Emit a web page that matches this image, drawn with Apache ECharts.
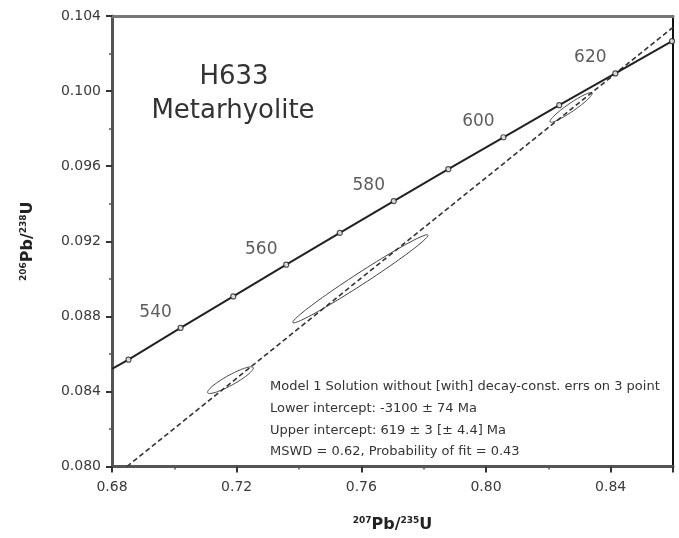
<!DOCTYPE html>
<html><head><meta charset="utf-8">
<script src="https://cdn.jsdelivr.net/npm/echarts@6/dist/echarts.min.js"></script>
<style>html,body{margin:0;padding:0;background:#fff}#c{width:679px;height:538px}</style>
</head><body><div id="c"></div>
<script>
// Concordia tick points (age in Ma, 207Pb/235U, 206Pb/238U)
const ages  = [530, 540, 550, 560, 570, 580, 590, 600, 610, 620, 630];
const concX = [0.6853, 0.7020, 0.7189, 0.7359, 0.7531, 0.7704, 0.7879, 0.8056, 0.8235, 0.8415, 0.8597];
const concY = [0.08569, 0.08738, 0.08906, 0.09075, 0.09245, 0.09414, 0.09584, 0.09754, 0.09925, 0.10094, 0.10266];
const concStart = [0.68, 0.0852];
const labeledAges = [540, 560, 580, 600, 620];
// Discordia (dashed) end points
const discX = [0.6848, 0.86];
const discY = [0.080, 0.1034];
// Error ellipses: centre, half-extents, correlation
const ellCx  = [0.7180, 0.7597, 0.8273];
const ellCy  = [0.08460, 0.09000, 0.09913];
const ellSx  = [0.00734, 0.02169, 0.00677];
const ellSy  = [0.000710, 0.002347, 0.000791];
const ellRho = [0.905, 0.9875, 0.945];
// Text
const sampleName = 'H633';
const rockType = 'Metarhyolite';
const resultLines = [
  'Model 1 Solution without [with] decay-const. errs on 3 point',
  'Lower intercept: -3100 \u00b1 74 Ma',
  'Upper intercept: 619 \u00b1 3 [\u00b1 4.4] Ma',
  'MSWD = 0.62, Probability of fit = 0.43'
];

const FONT = 'DejaVu Sans';
const chart = echarts.init(document.getElementById('c'), null, {renderer: 'canvas'});

const concLine = [concStart].concat(concX.map((x, i) => [x, concY[i]]));
const concPts = ages.map((a, i) => {
  const item = {value: [concX[i], concY[i], a]};
  if (labeledAges.indexOf(a) >= 0) {
    item.label = {show: true};
  }
  return item;
});
const ellData = ellCx.map((c, i) => [c, ellCy[i], ellSx[i], ellSy[i], ellRho[i]]);

const axisCommon = {
  axisLine: {show: true, onZero: false, lineStyle: {color: '#555', width: 3}},
  axisTick: {show: true, inside: false, length: 6, lineStyle: {color: '#333', width: 2}},
  minorTick: {show: true, splitNumber: 2, length: 3, lineStyle: {color: '#555', width: 1.5}},
  splitLine: {show: false},
  axisLabel: {color: '#3a3a3a', fontFamily: FONT, fontSize: 14}
};

const option = {
  animation: false,
  backgroundColor: '#fff',
  grid: {left: 112, right: 6, top: 16, bottom: 71, containLabel: false},
  xAxis: [
    Object.assign({}, axisCommon, {
      type: 'value', min: 0.68, max: 0.86, interval: 0.04,
      axisLabel: Object.assign({}, axisCommon.axisLabel, {margin: 14, showMaxLabel: false, formatter: v => v.toFixed(2)}),
      name: '{sup|207}{b|Pb/}{sup|235}{b|U}',
      nameLocation: 'middle', nameGap: 50,
      nameTextStyle: {
        rich: {
          b: {fontFamily: FONT, fontWeight: 'bold', fontSize: 16, color: '#222'},
          sup: {fontFamily: FONT, fontWeight: 'bold', fontSize: 9, color: '#222', verticalAlign: 'top', padding: [0, 0, 8, 0]}
        }
      }
    }),
    {type: 'value', position: 'top', min: 0.68, max: 0.86, axisLine: {show: true, onZero: false, lineStyle: {color: '#777', width: 3}},
     axisTick: {show: false}, axisLabel: {show: false}, splitLine: {show: false}}
  ],
  yAxis: [
    Object.assign({}, axisCommon, {
      type: 'value', min: 0.080, max: 0.104, interval: 0.004,
      axisLabel: Object.assign({}, axisCommon.axisLabel, {margin: 11, formatter: v => v.toFixed(3)}),
      name: '{sup|206}{b|Pb/}{sup|238}{b|U}',
      nameLocation: 'middle', nameGap: 76, nameRotate: 90,
      nameTextStyle: {
        rich: {
          b: {fontFamily: FONT, fontWeight: 'bold', fontSize: 16, color: '#222'},
          sup: {fontFamily: FONT, fontWeight: 'bold', fontSize: 9, color: '#222', verticalAlign: 'top', padding: [0, 0, 8, 0]}
        }
      }
    }),
    {type: 'value', position: 'right', min: 0.080, max: 0.104, axisLine: {show: true, onZero: false, lineStyle: {color: '#111', width: 2}},
     axisTick: {show: false}, axisLabel: {show: false}, splitLine: {show: false}}
  ],
  series: [
    {
      type: 'line', data: concLine, symbol: 'none', silent: true,
      lineStyle: {color: '#222', width: 2}, z: 3
    },
    {
      type: 'line', data: discX.map((x, i) => [x, discY[i]]), symbol: 'none', silent: true,
      lineStyle: {color: '#333', width: 1.6, type: [5, 3]}, z: 2
    },
    {
      type: 'custom', clip: true, z: 2,
      data: ellData,
      encode: {x: 0, y: 1},
      renderItem: function (params, api) {
        const cx = api.value(0), cy = api.value(1), sx = api.value(2), sy = api.value(3), r = api.value(4);
        const s = Math.sqrt(1 - r * r);
        const pts = [];
        for (let k = 0; k < 90; k++) {
          const t = 2 * Math.PI * k / 90;
          pts.push(api.coord([cx + sx * Math.cos(t), cy + sy * (r * Math.cos(t) + s * Math.sin(t))]));
        }
        return {type: 'polygon', shape: {points: pts}, style: {fill: 'none', stroke: '#444', lineWidth: 1}};
      }
    },
    {
      type: 'scatter', data: concPts, symbol: 'circle', symbolSize: 5, z: 4,
      itemStyle: {color: '#fff', borderColor: '#222', borderWidth: 1.2},
      label: {
        show: false, position: 'top', distance: 5, offset: [-25, 1],
        formatter: p => String(p.value[2]),
        fontFamily: FONT, fontSize: 17, color: '#333'
      }
    }
  ],
  graphic: [
    {type: 'text', x: 234, y: 77, style: {text: sampleName, font: '26px "DejaVu Sans"', fill: '#333', textAlign: 'center', textVerticalAlign: 'middle'}},
    {type: 'text', x: 233, y: 111, style: {text: rockType, font: '26px "DejaVu Sans"', fill: '#333', textAlign: 'center', textVerticalAlign: 'middle'}},
    {type: 'text', x: 270, y: 376, style: {text: resultLines.join('\n'), font: '13px "DejaVu Sans"', lineHeight: 21.7, fill: '#333', textAlign: 'left', textVerticalAlign: 'top'}}
  ]
};
chart.setOption(option);
</script>
</body></html>
